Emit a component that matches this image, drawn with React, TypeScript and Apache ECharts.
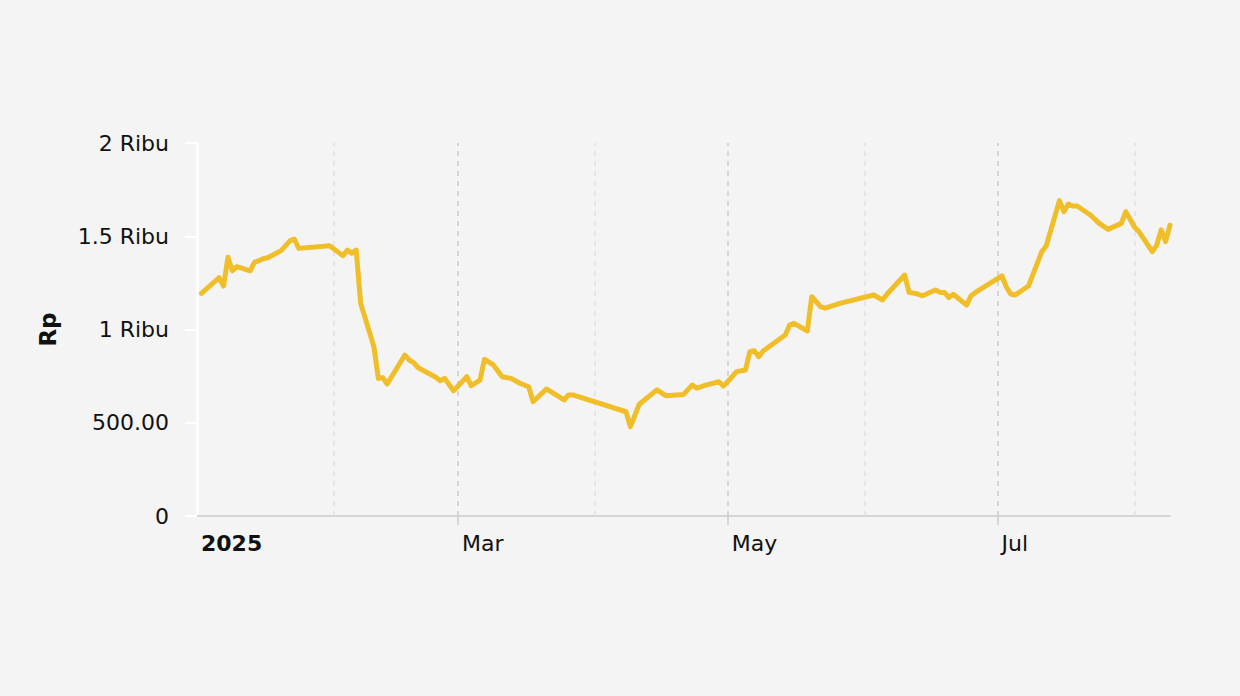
import React, { useEffect, useRef } from "react";
import * as echarts from "echarts";

const dates: string[] = [
  "2025-01-02", "2025-01-06", "2025-01-07", "2025-01-08", "2025-01-09", "2025-01-10",
  "2025-01-13", "2025-01-14", "2025-01-15", "2025-01-16", "2025-01-17", "2025-01-20",
  "2025-01-22", "2025-01-23", "2025-01-24", "2025-01-31", "2025-02-03", "2025-02-04",
  "2025-02-05", "2025-02-06", "2025-02-07", "2025-02-10", "2025-02-11", "2025-02-12",
  "2025-02-13", "2025-02-17", "2025-02-18", "2025-02-19", "2025-02-20", "2025-02-24",
  "2025-02-25", "2025-02-26", "2025-02-28", "2025-03-03", "2025-03-04", "2025-03-06",
  "2025-03-07", "2025-03-09", "2025-03-11", "2025-03-13", "2025-03-15", "2025-03-17",
  "2025-03-18", "2025-03-21", "2025-03-25", "2025-03-26", "2025-03-27", "2025-04-08",
  "2025-04-09", "2025-04-11", "2025-04-15", "2025-04-17", "2025-04-21", "2025-04-23",
  "2025-04-24", "2025-04-26", "2025-04-29", "2025-04-30", "2025-05-01", "2025-05-03",
  "2025-05-05", "2025-05-06", "2025-05-07", "2025-05-08", "2025-05-09", "2025-05-14",
  "2025-05-15", "2025-05-16", "2025-05-19", "2025-05-20", "2025-05-22", "2025-05-23",
  "2025-05-26", "2025-05-27", "2025-06-03", "2025-06-05", "2025-06-06", "2025-06-10",
  "2025-06-11", "2025-06-13", "2025-06-14", "2025-06-17", "2025-06-18", "2025-06-19",
  "2025-06-20", "2025-06-21", "2025-06-24", "2025-06-25", "2025-06-26", "2025-07-02",
  "2025-07-03", "2025-07-04", "2025-07-05", "2025-07-08", "2025-07-11", "2025-07-12",
  "2025-07-15", "2025-07-16", "2025-07-17", "2025-07-18", "2025-07-19", "2025-07-22",
  "2025-07-24", "2025-07-26", "2025-07-29", "2025-07-30", "2025-08-01", "2025-08-02",
  "2025-08-05", "2025-08-06", "2025-08-07", "2025-08-08", "2025-08-09",
];

const prices: number[] = [
  1194, 1278, 1233, 1387, 1315, 1337,
  1314, 1360, 1369, 1380, 1385, 1423,
  1475, 1485, 1435, 1449, 1396, 1426,
  1409, 1426, 1140, 908, 738, 742,
  708, 863, 836, 822, 795, 744,
  725, 738, 672, 747, 699, 729,
  840, 810, 747, 738, 712, 693,
  613, 681, 622, 649, 649, 559,
  479, 599, 676, 645, 652, 702,
  685, 702, 720, 697, 720, 774,
  783, 881, 886, 854, 885, 971,
  1024, 1033, 992, 1176, 1122, 1114,
  1137, 1144, 1185, 1158, 1189, 1292,
  1199, 1190, 1181, 1212, 1199, 1199,
  1171, 1189, 1131, 1181, 1199, 1288,
  1228, 1190, 1185, 1233, 1417, 1448,
  1691, 1632, 1673, 1662, 1662, 1614,
  1569, 1537, 1569, 1632, 1548, 1524,
  1417, 1453, 1534, 1471, 1560,
];

const axisStart = "2025-01-01";
const axisEnd = "2025-08-09";
const labelMonths: string[] = ["2025-01-01", "2025-03-01", "2025-05-01", "2025-07-01"];
const majorMonths: string[] = ["2025-03-01", "2025-05-01", "2025-07-01"];
const minorMonths: string[] = ["2025-02-01", "2025-04-01", "2025-06-01", "2025-08-01"];
const monthNames: string[] = ["Jan", "Feb", "Mar", "Apr", "May", "Jun", "Jul", "Aug", "Sep", "Oct", "Nov", "Dec"];

const ts = (s: string) => {
  const [y, m, d] = s.split("-").map(Number);
  return Date.UTC(y, m - 1, d);
};

const FONT = "DejaVu Sans";

export default function App() {
  const ref = useRef<HTMLDivElement>(null);
  useEffect(() => {
    document.body.style.margin = "0";
    document.body.style.background = "#f4f4f4";
    const chart = echarts.init(ref.current!, null, { renderer: "svg" });
    const seriesData = dates.map((d, i) => [ts(d), prices[i]]);
    const markData = [
      ...minorMonths.map((m) => ({ xAxis: ts(m), lineStyle: { color: "#e0e0e0", width: 1.5, type: [5, 5] } })),
      ...majorMonths.map((m) => ({ xAxis: ts(m), lineStyle: { color: "#cacaca", width: 1.5, type: [5, 5] } })),
    ];
    chart.setOption({
      animation: false,
      backgroundColor: "#f4f4f4",
      grid: { left: 197, right: 70, top: 143, bottom: 180, containLabel: false },
      xAxis: {
        type: "value",
        min: ts(axisStart),
        max: ts(axisEnd),
        axisLine: { show: true, lineStyle: { color: "#d6d6d6", width: 2 } },
        axisTick: {
          show: true,
          length: 9,
          lineStyle: { color: "#cfcfcf", width: 1.5 },
          customValues: majorMonths.map(ts),
        },
        splitLine: { show: false },
        axisLabel: {
          customValues: labelMonths.map(ts),
          fontFamily: FONT,
          fontSize: 22,
          color: "#111",
          margin: 16,
          align: "left",
          padding: [0, 0, 0, 4],
          formatter: (v: number) => {
            const d = new Date(v);
            if (d.getUTCMonth() === 0) return "{y|" + d.getUTCFullYear() + "}";
            return monthNames[d.getUTCMonth()];
          },
          rich: { y: { fontWeight: "bold", fontFamily: FONT, fontSize: 22, color: "#111" } },
        },
      },
      yAxis: {
        type: "value",
        min: 0,
        max: 2000,
        interval: 500,
        name: "Rp",
        nameLocation: "middle",
        nameGap: 138,
        nameTextStyle: { fontFamily: FONT, fontSize: 23, fontWeight: "bold", color: "#111" },
        axisLine: { show: true, lineStyle: { color: "#ffffff", width: 2.5 } },
        axisTick: { show: true, length: 12, lineStyle: { color: "#ffffff", width: 2 } },
        splitLine: { show: false },
        axisLabel: {
          fontFamily: FONT,
          fontSize: 22,
          color: "#111",
          margin: 28,
          formatter: (v: number) => {
            if (v === 0) return "0";
            if (v < 1000) return v.toFixed(2);
            return v / 1000 + " Ribu";
          },
        },
      },
      series: [
        {
          type: "line",
          data: seriesData,
          showSymbol: false,
          symbol: "none",
          lineStyle: { color: "#f0be28", width: 5, join: "round", cap: "round" },
          markLine: {
            silent: true,
            symbol: "none",
            label: { show: false },
            data: markData,
            z: 1,
          },
          z: 3,
        },
      ],
    });
    return () => chart.dispose();
  }, []);
  return <div ref={ref} style={{ width: 1240, height: 696 }} />;
}
